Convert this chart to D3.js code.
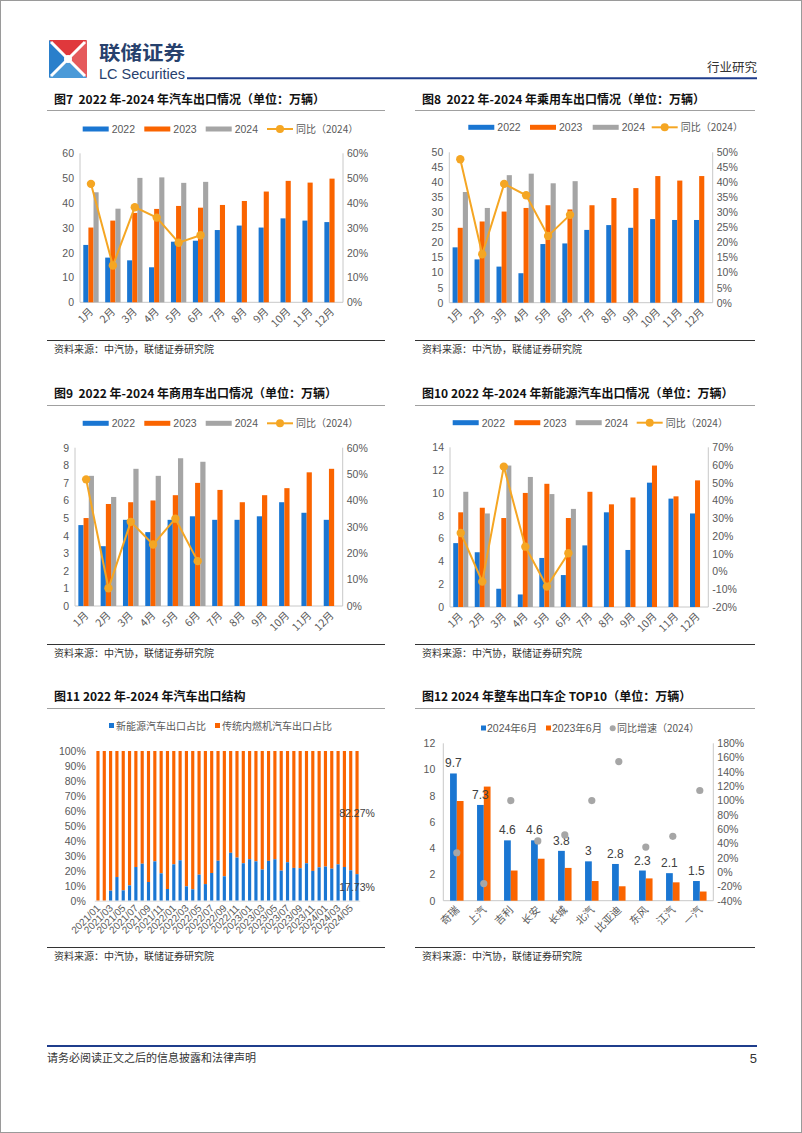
<!DOCTYPE html>
<html><head><meta charset="utf-8">
<script src="https://cdn.jsdelivr.net/npm/d3@7"></script>
<style>body{margin:0;background:#fff}svg{display:block}</style>
</head><body><svg id="c" width="802" height="1133"></svg>
<script>
// ---------------- DATA ----------------
const months = ["1月","2月","3月","4月","5月","6月","7月","8月","9月","10月","11月","12月"];
const seriesNames = ["2022","2023","2024"];

const c7_2022 = [23.1,18.0,16.9,14.1,24.4,24.8,29.1,30.9,30.1,33.8,32.9,32.3];
const c7_2023 = [30.1,32.9,36.0,37.6,38.8,38.1,39.2,40.8,44.6,48.9,48.2,49.8];
const c7_2024 = [44.3,37.7,50.1,50.3,48.1,48.5];
const c7_yoy  = [47.7,14.8,38.3,34.1,24.0,27.0];

const c8_2022 = [18.4,14.4,12.0,9.8,19.5,19.7,24.2,25.8,24.9,27.8,27.5,27.5];
const c8_2023 = [24.9,27.0,30.3,31.5,32.4,31.0,32.4,34.8,38.1,42.1,40.6,42.1];
const c8_2024 = [36.8,31.5,42.4,42.9,39.7,40.4];
const c8_yoy  = [47.7,16.1,39.5,35.7,22.2,29.2];

const c9_2022 = [4.6,3.4,4.9,4.2,4.9,5.1,4.9,4.9,5.1,5.9,5.3,4.9];
const c9_2023 = [5.0,5.8,5.9,6.0,6.3,7.0,6.6,5.9,6.3,6.7,7.6,7.8];
const c9_2024 = [7.4,6.2,7.8,7.4,8.4,8.2];
const c9_yoy  = [48.0,6.7,31.9,23.3,33.1,17.0];

const c10_2022 = [5.6,4.8,1.6,1.1,4.3,2.8,5.4,8.3,5.0,10.9,9.5,8.2];
const c10_2023 = [8.3,8.7,7.8,10.0,10.8,7.8,10.1,9.0,9.6,12.4,9.7,11.1];
const c10_2024 = [10.1,8.2,12.4,11.4,9.9,8.6];
const c10_yoy  = [21.7,-5.7,59.1,14.0,-8.5,10.3];

const c11_months = ["2021/01","2021/02","2021/03","2021/04","2021/05","2021/06","2021/07","2021/08","2021/09","2021/10","2021/11","2021/12",
  "2022/01","2022/02","2022/03","2022/04","2022/05","2022/06","2022/07","2022/08","2022/09","2022/10","2022/11","2022/12",
  "2023/01","2023/02","2023/03","2023/04","2023/05","2023/06","2023/07","2023/08","2023/09","2023/10","2023/11","2023/12",
  "2024/01","2024/02","2024/03","2024/04","2024/05","2024/06"];
const c11_nev = [0,0,6.7,15.8,6.9,10.2,22.5,24.7,12.5,26.3,18.3,7.8,24.3,27.0,9.6,7.6,17.4,11.1,18.5,26.7,16.3,32.0,28.8,25.0,27.7,26.3,20.8,26.6,27.7,20.1,25.7,21.9,21.7,25.0,19.9,22.3,22.8,21.4,24.3,22.5,20.3,17.73];
const c11_ice = [100,100,93.3,84.2,93.1,89.8,77.5,75.3,87.5,73.7,81.7,92.2,75.7,73.0,90.4,92.4,82.6,88.9,81.5,73.3,83.7,68.0,71.2,75.0,72.3,73.7,79.2,73.4,72.3,79.9,74.3,78.1,78.3,75.0,80.1,77.7,77.2,78.6,75.7,77.5,79.7,82.27];

const c12_brands = ["奇瑞","上汽","吉利","长安","长城","北汽","比亚迪","东风","江汽","一汽"];
const c12_2024 = [9.7,7.3,4.6,4.6,3.8,3,2.8,2.3,2.1,1.5];
const c12_2023 = [7.6,8.7,2.3,3.2,2.5,1.5,1.1,1.7,1.4,0.7];
const c12_yoy  = [27,-16,100,43.5,52,100,154.5,35,50,114];

// ---------------- STYLE ----------------
const FL = "'Liberation Sans', Arial, 'Noto Sans CJK SC', sans-serif";
const FC = "'Noto Sans CJK SC', 'Liberation Sans', sans-serif";
const BLUE = "#1a76d2", ORANGE = "#fa6400", GRAY = "#a5a5a5", LINE = "#f5a623";
const TXT = "#595959", AXC = "#c8c8c8";

const svg = d3.select("#c");
svg.append("rect").attr("x",0.5).attr("y",0.5).attr("width",801).attr("height",1132).attr("fill","#fff").attr("stroke","#9a9a9a");

// ---------------- HEADER ----------------
const logo = svg.append("g");
const L = {x:49, y:40, s:38};
const cx = L.x + L.s/2, cy = L.y + L.s/2;
logo.append("polygon").attr("points", `${L.x},${L.y} ${L.x+L.s},${L.y} ${cx},${cy}`).attr("fill","#e0383c");
logo.append("polygon").attr("points", `${L.x+L.s},${L.y} ${L.x+L.s},${L.y+L.s} ${cx},${cy}`).attr("fill","#e55a5c");
logo.append("polygon").attr("points", `${L.x},${L.y} ${L.x},${L.y+L.s} ${cx},${cy}`).attr("fill","#2a7fcb");
logo.append("polygon").attr("points", `${L.x},${L.y+L.s} ${L.x+L.s},${L.y+L.s} ${cx},${cy}`).attr("fill","#4b9ad8");
logo.append("path").attr("d", `M${L.x+2},${L.y+2} Q${cx},${cy} ${L.x+L.s-2},${L.y+L.s-2} M${L.x+L.s-2},${L.y+2} Q${cx},${cy} ${L.x+2},${L.y+L.s-2}`)
  .attr("stroke","#fff").attr("stroke-width",3).attr("fill","none");
logo.append("circle").attr("cx",cx).attr("cy",cy).attr("r",4).attr("fill","#fff");

svg.append("text").attr("x",99).attr("y",60).attr("font-family",FC).attr("font-weight","bold").attr("font-size",19)
  .attr("textLength",86).attr("lengthAdjust","spacingAndGlyphs").attr("fill","#27416d").text("联储证券");
svg.append("text").attr("x",99).attr("y",78.5).attr("font-family","'Liberation Sans Narrow', 'Liberation Sans', sans-serif").attr("font-size",14.5)
  .attr("textLength",86).attr("lengthAdjust","spacingAndGlyphs").attr("fill","#27416d").text("LC Securities");
svg.append("line").attr("x1",187).attr("x2",757).attr("y1",78.3).attr("y2",78.3).attr("stroke","#1f3d8c").attr("stroke-width",2);
svg.append("text").attr("x",757).attr("y",72).attr("text-anchor","end").attr("font-family",FC).attr("font-size",12.5).attr("fill","#333").text("行业研究");

// ---------------- FOOTER ----------------
svg.append("line").attr("x1",47).attr("x2",757).attr("y1",1046).attr("y2",1046).attr("stroke","#1f3d8c").attr("stroke-width",2);
svg.append("text").attr("x",47).attr("y",1062).attr("font-family",FC).attr("font-size",11).attr("fill","#333").text("请务必阅读正文之后的信息披露和法律声明");
svg.append("text").attr("x",757).attr("y",1063).attr("text-anchor","end").attr("font-family",FL).attr("font-size",13).attr("fill","#333").text("5");

// ---------------- PANEL FRAMES ----------------
function panel(x0, x1, titleY, lineTop, lineBot, title) {
  svg.append("text").attr("x",x0+7).attr("y",titleY+4).attr("font-family",FC).attr("font-weight","bold").attr("font-size",12)
    .style("white-space","pre").attr("fill","#111").text(title);
  svg.append("line").attr("x1",x0).attr("x2",x1).attr("y1",lineTop).attr("y2",lineTop).attr("stroke","#a0a0a0").attr("stroke-width",1);
  svg.append("line").attr("x1",x0).attr("x2",x1).attr("y1",lineBot).attr("y2",lineBot).attr("stroke","#333").attr("stroke-width",1);
  svg.append("text").attr("x",x0+7).attr("y",lineBot+12).attr("font-family",FC).attr("font-size",10).attr("fill","#333").text("资料来源：中汽协，联储证券研究院");
}
panel(47, 385, 100, 110.5, 340.5, "图7  2022 年-2024 年汽车出口情况（单位：万辆）");
panel(415, 755, 100, 110.5, 340.5, "图8  2022 年-2024 年乘用车出口情况（单位：万辆）");
panel(47, 385, 394, 405.5, 644.5, "图9  2022 年-2024 年商用车出口情况（单位：万辆）");
panel(415, 755, 394, 405.5, 644.5, "图10 2022 年-2024 年新能源汽车出口情况（单位：万辆）");
panel(47, 385, 697, 708.5, 947.5, "图11 2022 年-2024 年汽车出口结构");
panel(415, 755, 697, 708.5, 947.5, "图12 2024 年整车出口车企 TOP10（单位：万辆）");

// ---------------- MONTHLY CHARTS ----------------
function styleAxis(sel, anchor) {
  sel.select(".domain").remove();
  sel.selectAll("line").remove();
  sel.selectAll("text").attr("font-family",FL).attr("font-size",10.5).attr("fill",TXT).attr("text-anchor",anchor);
}
function monthChart(c) {
  const g = svg.append("g");
  const x = d3.scaleBand().domain(months).range([c.x0, c.x1]).paddingInner(0.3).paddingOuter(0.15);
  const xs = d3.scaleBand().domain(seriesNames).range([0, x.bandwidth()]);
  const yL = d3.scaleLinear().domain([0, c.lmax]).range([c.y1, c.y0]);
  const yR = d3.scaleLinear().domain([c.rmin, c.rmax]).range([c.y1, c.y0]);
  g.append("g").attr("transform",`translate(${c.x0-6},0)`)
    .call(d3.axisLeft(yL).tickValues(d3.range(0, c.lmax + 1e-9, c.lstep)).tickSize(0).tickPadding(0))
    .call(s => styleAxis(s, "end"));
  g.append("g").attr("transform",`translate(${c.x1+4},0)`)
    .call(d3.axisRight(yR).tickValues(d3.range(c.rmin, c.rmax + 1e-9, c.rstep)).tickSize(0).tickPadding(0).tickFormat(d => Math.round(d) + "%"))
    .call(s => styleAxis(s, "start"));
  g.append("line").attr("x1",c.x0).attr("x2",c.x0).attr("y1",c.y0).attr("y2",c.y1).attr("stroke",AXC);
  g.append("line").attr("x1",c.x1).attr("x2",c.x1).attr("y1",c.y0).attr("y2",c.y1).attr("stroke",AXC);
  g.append("line").attr("x1",c.x0).attr("x2",c.x1).attr("y1",c.y1).attr("y2",c.y1).attr("stroke",AXC);
  g.selectAll("text.cat").data(months).join("text").attr("class","cat")
    .attr("transform", d => `translate(${x(d) + x.bandwidth()/2 + 3},${c.y1 + 10}) rotate(-45)`)
    .attr("text-anchor","end").attr("font-family",FC).attr("font-size",10.5).attr("fill",TXT).text(d => d);
  const sets = [[c.d22, BLUE, "2022"], [c.d23, ORANGE, "2023"], [c.d24, GRAY, "2024"]];
  sets.forEach(([arr, col, name]) => {
    g.selectAll(null).data(arr).join("rect")
      .attr("x", (d,i) => x(months[i]) + xs(name))
      .attr("width", xs.bandwidth())
      .attr("y", d => yL(d)).attr("height", d => yL(0) - yL(d))
      .attr("fill", col);
  });
  const pts = c.yoy.map((v,i) => [x(months[i]) + x.bandwidth()/2, yR(v)]);
  g.append("path").attr("d", d3.line()(pts)).attr("fill","none").attr("stroke",LINE).attr("stroke-width",2);
  g.selectAll(null).data(pts).join("circle").attr("cx",d=>d[0]).attr("cy",d=>d[1]).attr("r",4.2).attr("fill",LINE);
  const lg = g.append("g");
  const lbl = ["2022","2023","2024"], cols = [BLUE, ORANGE, GRAY];
  lbl.forEach((t,i) => {
    lg.append("rect").attr("x",c.lx[i]).attr("y",c.ly-2.5).attr("width",26).attr("height",5).attr("fill",cols[i]);
    lg.append("text").attr("x",c.lx[i]+29).attr("y",c.ly+4).attr("font-family",FL).attr("font-size",10.5).attr("fill",TXT).text(t);
  });
  lg.append("line").attr("x1",c.lx[3]).attr("x2",c.lx[3]+26).attr("y1",c.ly).attr("y2",c.ly).attr("stroke",LINE).attr("stroke-width",2);
  lg.append("circle").attr("cx",c.lx[3]+13).attr("cy",c.ly).attr("r",4).attr("fill",LINE);
  lg.append("text").attr("x",c.lx[3]+29).attr("y",c.ly+4).attr("font-family",FC).attr("font-size",10).attr("fill",TXT).text("同比（2024）");
}

monthChart({x0:80, x1:343, y0:153.3, y1:302.3, lmax:60, lstep:10, rmin:0, rmax:60, rstep:10,
  d22:c7_2022, d23:c7_2023, d24:c7_2024, yoy:c7_yoy, lx:[82.7,144.3,205.7,267], ly:129});
monthChart({x0:449.3, x1:712.7, y0:152.3, y1:302.7, lmax:50, lstep:5, rmin:0, rmax:50, rstep:5,
  d22:c8_2022, d23:c8_2023, d24:c8_2024, yoy:c8_yoy, lx:[468.3,530,592.7,651.7], ly:127.3});
monthChart({x0:75, x1:342.7, y0:447.7, y1:606, lmax:9, lstep:1, rmin:0, rmax:60, rstep:10,
  d22:c9_2022, d23:c9_2023, d24:c9_2024, yoy:c9_yoy, lx:[82.7,144.3,205.7,267], ly:423.3});
monthChart({x0:450, x1:708.3, y0:447.3, y1:607, lmax:14, lstep:2, rmin:-20, rmax:70, rstep:10,
  d22:c10_2022, d23:c10_2023, d24:c10_2024, yoy:c10_yoy, lx:[452.7,514.3,575.7,636.7], ly:422.7});

// ---------------- CHART 11 ----------------
(function(){
  const g = svg.append("g");
  const c = {x0:94.8, x1:360.2, y0:751, y1:900.7};
  const x = d3.scaleBand().domain(c11_months).range([c.x0, c.x1]).paddingInner(0.5).paddingOuter(0.25);
  const y = d3.scaleLinear().domain([0,100]).range([c.y1, c.y0]);
  g.append("g").attr("transform",`translate(${c.x0-9},0)`)
    .call(d3.axisLeft(y).tickValues(d3.range(0,101,10)).tickSize(0).tickPadding(0).tickFormat(d => d + "%"))
    .call(s => styleAxis(s, "end"));
  g.selectAll(null).data(c11_ice).join("rect")
    .attr("x",(d,i)=>x(c11_months[i])).attr("width",x.bandwidth())
    .attr("y",(d,i)=>y(c11_nev[i] + d)).attr("height",(d,i)=>y(c11_nev[i]) - y(c11_nev[i]+d)).attr("fill",ORANGE);
  g.selectAll(null).data(c11_nev).join("rect")
    .attr("x",(d,i)=>x(c11_months[i])).attr("width",x.bandwidth())
    .attr("y",d=>y(d)).attr("height",d=>y(0)-y(d)).attr("fill",BLUE);
  g.append("line").attr("x1",c.x0).attr("x2",c.x1).attr("y1",c.y1+0.5).attr("y2",c.y1+0.5).attr("stroke","#d9d9d9");
  g.selectAll("text.cat").data(c11_months.filter((d,i)=>i%2===0)).join("text").attr("class","cat")
    .attr("transform", d => `translate(${x(d) + x.bandwidth()/2 + 3},${c.y1 + 8}) rotate(-45)`)
    .attr("text-anchor","end").attr("font-family",FL).attr("font-size",10).attr("fill",TXT).text(d => d);
  const last = c11_months.length - 1;
  const lx = x(c11_months[last]) + x.bandwidth()/2;
  g.append("text").attr("x",lx).attr("y",y(c11_nev[last] + c11_ice[last]/2)+4).attr("text-anchor","middle")
    .attr("font-family",FL).attr("font-size",10.5).attr("fill","#404040").text(c11_ice[last].toFixed(2)+"%");
  g.append("text").attr("x",lx).attr("y",y(c11_nev[last]/2)+4).attr("text-anchor","middle")
    .attr("font-family",FL).attr("font-size",10.5).attr("fill","#404040").text(c11_nev[last].toFixed(2)+"%");
  g.append("rect").attr("x",109).attr("y",723).attr("width",5).attr("height",5).attr("fill",BLUE);
  g.append("text").attr("x",116).attr("y",729.5).attr("font-family",FC).attr("font-size",10).attr("fill",TXT).text("新能源汽车出口占比");
  g.append("rect").attr("x",215).attr("y",723).attr("width",5).attr("height",5).attr("fill",ORANGE);
  g.append("text").attr("x",222).attr("y",729.5).attr("font-family",FC).attr("font-size",10).attr("fill",TXT).text("传统内燃机汽车出口占比");
})();

// ---------------- CHART 12 ----------------
(function(){
  const g = svg.append("g");
  const c = {x0:443.3, x1:713.3, y0:743.3, y1:900.7};
  const x = d3.scaleBand().domain(c12_brands).range([c.x0, c.x1]).paddingInner(0.5).paddingOuter(0.25);
  const xs = d3.scaleBand().domain(["2024","2023"]).range([0, x.bandwidth()]);
  const y = d3.scaleLinear().domain([0,12]).range([c.y1, c.y0]);
  const yR = d3.scaleLinear().domain([-40,180]).range([c.y1, c.y0]);
  g.append("g").attr("transform",`translate(${c.x0-8},0)`)
    .call(d3.axisLeft(y).tickValues(d3.range(0,13,2)).tickSize(0).tickPadding(0))
    .call(s => styleAxis(s, "end"));
  g.append("g").attr("transform",`translate(${c.x1+4},0)`)
    .call(d3.axisRight(yR).tickValues(d3.range(-40,181,20)).tickSize(0).tickPadding(0).tickFormat(d => d + "%"))
    .call(s => styleAxis(s, "start"));
  g.append("line").attr("x1",c.x0).attr("x2",c.x0).attr("y1",c.y0).attr("y2",c.y1).attr("stroke",AXC);
  g.append("line").attr("x1",c.x1).attr("x2",c.x1).attr("y1",c.y0).attr("y2",c.y1).attr("stroke",AXC);
  g.append("line").attr("x1",c.x0).attr("x2",c.x1).attr("y1",c.y1).attr("y2",c.y1).attr("stroke",AXC);
  g.selectAll(null).data(c12_2024).join("rect")
    .attr("x",(d,i)=>x(c12_brands[i]) + xs("2024")).attr("width",xs.bandwidth())
    .attr("y",d=>y(d)).attr("height",d=>y(0)-y(d)).attr("fill",BLUE);
  g.selectAll(null).data(c12_2023).join("rect")
    .attr("x",(d,i)=>x(c12_brands[i]) + xs("2023")).attr("width",xs.bandwidth())
    .attr("y",d=>y(d)).attr("height",d=>y(0)-y(d)).attr("fill",ORANGE);
  g.selectAll(null).data(c12_2024).join("text")
    .attr("x",(d,i)=>x(c12_brands[i]) + xs("2024") + xs.bandwidth()/2).attr("y",d=>y(d)-6)
    .attr("text-anchor","middle").attr("font-family",FL).attr("font-size",12).attr("fill","#404040").text(d=>d);
  g.selectAll(null).data(c12_yoy).join("circle")
    .attr("cx",(d,i)=>x(c12_brands[i]) + x.bandwidth()/2).attr("cy",d=>yR(d)).attr("r",3.6).attr("fill","#a6a6a6");
  g.selectAll("text.cat").data(c12_brands).join("text").attr("class","cat")
    .attr("transform", d => `translate(${x(d) + x.bandwidth()/2 + 3},${c.y1 + 10}) rotate(-45)`)
    .attr("text-anchor","end").attr("font-family",FC).attr("font-size",10.5).attr("fill",TXT).text(d => d);
  g.append("rect").attr("x",481).attr("y",725.5).attr("width",5).attr("height",5).attr("fill",BLUE);
  g.append("text").attr("x",487).attr("y",732).attr("font-family",FL).attr("font-size",10.5).attr("fill",TXT).text("2024年6月");
  g.append("rect").attr("x",546).attr("y",725.5).attr("width",5).attr("height",5).attr("fill",ORANGE);
  g.append("text").attr("x",552).attr("y",732).attr("font-family",FL).attr("font-size",10.5).attr("fill",TXT).text("2023年6月");
  g.append("circle").attr("cx",612.7).attr("cy",728.3).attr("r",3).attr("fill","#a6a6a6");
  g.append("text").attr("x",617).attr("y",732).attr("font-family",FC).attr("font-size",10).attr("fill",TXT).text("同比增速（2024）");
})();
</script></body></html>
